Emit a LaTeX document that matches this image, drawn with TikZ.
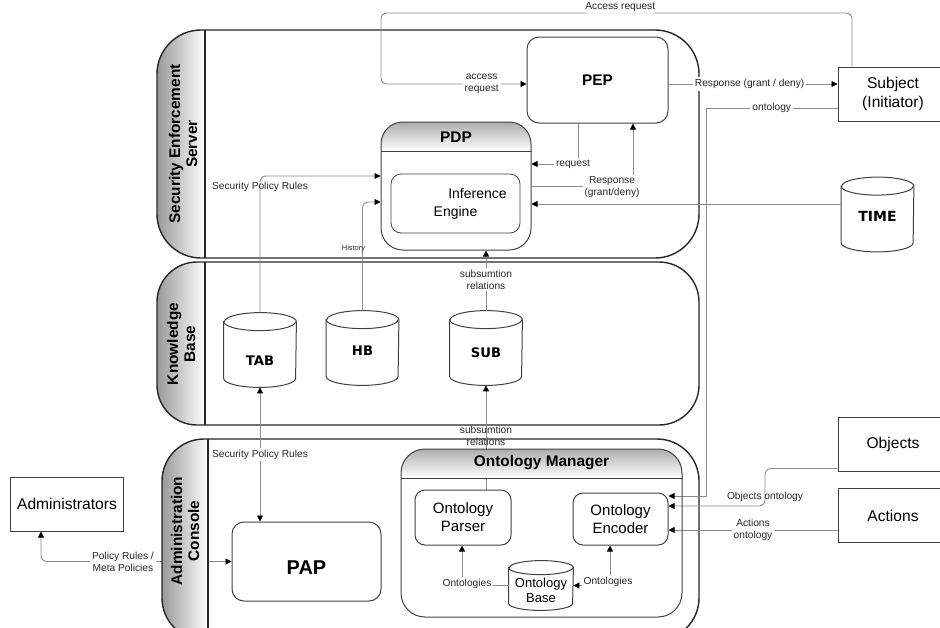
\documentclass[tikz,border=0pt]{standalone}
\usepackage{fontspec}
\setmainfont{Liberation Sans}
\newfontfamily\dbfont{DejaVu Sans}
\usetikzlibrary{arrows.meta}

% cylinder outline round a named node: name, half width, half height of the ellipse
\newcommand{\dbcyl}[3]{%
  \draw[box] ([yshift=-#3]#1.north west) -- ([yshift=#3]#1.south west)
    arc[start angle=180, end angle=360, x radius=#2, y radius=#3]
    -- ([yshift=-#3]#1.north east)
    arc[start angle=0, end angle=180, x radius=#2, y radius=#3] -- cycle;
  \draw[box] ([yshift=-#3]#1.north west) arc[start angle=180, end angle=360, x radius=#2, y radius=#3];
}

\tikzset{
  lane/.style={draw=black!85, line width=0.7pt},
  tabshade/.style={left color=black!40, right color=white},
  headshade/.style={top color=black!32, bottom color=white},
  box/.style={draw=black!75, line width=0.5pt},
  rbox/.style={box, rounded corners=5pt, align=center, font=\fontsize{7.5}{9}\selectfont},
  actor/.style={box, minimum width=55pt, minimum height=27pt, align=center, font=\fontsize{7.8}{9.5}\selectfont},
  db/.style={inner sep=0pt, minimum width=36pt, minimum height=37pt},
  dbtext/.style={inner sep=0pt, align=center, font=\dbfont\bfseries\fontsize{6.6}{8}\selectfont},
  head/.style={font=\bfseries\fontsize{7.7}{9}\selectfont},
  lanetitle/.style={rotate=90, align=center, font=\bfseries\fontsize{7.7}{8.5}\selectfont},
  con/.style={draw=black!45, line width=0.45pt},
  lbl/.style={inner sep=1pt, align=center, text=black!85, font=\fontsize{5.1}{6}\selectfont},
  lblw/.style={lbl, fill=white},
  lbltiny/.style={lbl, font=\fontsize{3.7}{4.5}\selectfont}
}

\begin{document}
\begin{tikzpicture}[x=0.5pt, y=-0.5pt, >={Triangle[length=3pt,width=3pt,color=black]}]
\useasboundingbox (0,0) rectangle (940,627);
\clip (0,0) rectangle (940,627);

% administrators and PAP (their link runs under the console tab)
\node[actor] (admin) at (67,504) {Administrators};
\node[box, rounded corners=6pt, minimum width=74.5pt, minimum height=39.5pt,
  label={[yshift=-3.2pt, font=\bfseries\fontsize{10}{12}\selectfont]center:PAP}] (pap) at (306.5,561.5) {};
\draw[con,<->,rounded corners=3pt] ([xshift=-13pt]admin.south) |- node[lblw, pos=0.715]{Policy Rules /\\Meta Policies} (pap.west);

% lanes
\begin{scope}
  \clip[rounded corners=22pt] (157,30) rectangle (699,258);
  \shade[tabshade] (157,30) rectangle (205,258);
\end{scope}
\draw[lane, rounded corners=22pt] (157,30) rectangle (699,258);
\draw[lane] (205,30) -- (205,258);
\node[lanetitle] (ses) at (183,144) {Security Enforcement\\Server};

\begin{scope}
  \clip[rounded corners=20pt] (157,262) rectangle (699,425);
  \shade[tabshade] (157,262) rectangle (205,425);
\end{scope}
\draw[lane, rounded corners=20pt] (157,262) rectangle (699,425);
\draw[lane] (205,262) -- (205,425);
\node[lanetitle] (kb) at (181,344) {Knowledge\\Base};

\begin{scope}
  \clip[rounded corners=21pt] (162,439) rectangle (699,640);
  \shade[tabshade] (162,439) rectangle (208,640);
\end{scope}
\draw[lane, rounded corners=21pt] (162,439) rectangle (699,640);
\draw[lane] (208,439) -- (208,640);
\node[lanetitle] (console) at (185,531) {Administration\\Console};

% enforcement server
\node[box, rounded corners=6pt, minimum width=70.5pt, minimum height=43pt, head] (pep) at (597.5,80) {PEP};
\begin{scope}
  \clip[rounded corners=11pt] (381,122) rectangle (531,250);
  \shade[headshade] (381,122) rectangle (531,151);
\end{scope}
\node[box, rounded corners=11pt, minimum width=75pt, minimum height=64pt] (pdp) at (456,186) {};
\draw[box] (pdp.west |- 0,151) -- (pdp.east |- 0,151);
\node[head] (pdptitle) at (456,137) {PDP};
\node[box, line width=0.4pt, rounded corners=5pt, minimum width=64.5pt, minimum height=29.5pt,
  align=center, font=\fontsize{7}{9}\selectfont] (engine) at (455.5,203.5) {\hspace*{22pt}Inference\\Engine};

% knowledge base
\node[db, label={[dbtext, yshift=-5.5pt]center:TAB}] (tab) at (260,350) {};
\node[db, label={[dbtext, yshift=-1.5pt]center:HB}] (hb) at (362.5,348) {};
\node[db, label={[dbtext, yshift=-2.5pt]center:SUB}] (sub) at (486,348) {};
\node[db, label={[dbtext, yshift=-0.8pt, font=\dbfont\bfseries\fontsize{7}{8}\selectfont]center:TIME}] (time) at (877.5,214.5) {};
\dbcyl{tab}{18pt}{4.5pt}
\dbcyl{hb}{18pt}{4.5pt}
\dbcyl{sub}{18pt}{4.5pt}
\dbcyl{time}{18pt}{4.5pt}

% outside actors
\node[actor] (subject) at (893,94) {Subject\\(Initiator)};
\node[actor] (objects) at (893,444) {Objects};
\node[actor] (actions) at (893,515.5) {Actions};

% ontology manager parts
\node[rbox, minimum width=48pt, minimum height=27.5pt] (parser) at (463,517.5) {Ontology\\Parser};
\node[rbox, minimum width=47.5pt, minimum height=26pt] (encoder) at (620.5,519) {Ontology\\Encoder};
\node[db, minimum width=32pt, minimum height=24.5pt,
  label={[dbtext, yshift=-2.5pt, font=\fontsize{6.5}{7.5}\selectfont]center:Ontology\\Base}] (base) at (541,585.5) {};
\dbcyl{base}{16pt}{3.5pt}

% connectors
\draw[con,->,rounded corners=3pt] (subject.north -| 852,0) |- node[lblw, pos=0.746, yshift=3pt]{Access request} (381,13)
  |- node[lblw, pos=0.846]{access\\request} (pep.west |- 0,84);
\draw[con,->] (pep.east |- 0,84) -- node[lblw, pos=0.48]{Response (grant / deny)} (subject.west |- 0,84);
\draw[con,->] (subject.west |- 0,108) -- node[lblw]{ontology} (706,108) |- (encoder.east |- 0,496);
\draw[con,->] (time.west |- 0,204) -- (pdp.east |- 0,204);
\draw[con,->] (pep.south -| 578,0) |- node[lblw, pos=0.5, xshift=-2.5pt]{request} (pdp.east |- 0,164);
\draw[con,->] (pdp.east |- 0,186) -| node[lblw, pos=0.5, xshift=-10.5pt, yshift=-0.7pt]{Response\\(grant/deny)} (pep.south -| 633,0);
\draw[con,->,rounded corners=3pt] (tab.north) |- node[lbl, pos=0.46]{Security Policy Rules} (pdp.west |- 0,176);
\draw[con,->,rounded corners=3pt] (hb.north) |- node[lbltiny, pos=0.286, xshift=-4.5pt]{History} (pdp.west |- 0,202);
\draw[con,->] (sub.north) -- node[lblw, pos=0.52]{subsumtion\\relations} (pdp.south -| sub.north);
\draw[con,->] (parser.north -| sub.south) -- node[lbl, pos=0.52]{subsumtion\\relations} (sub.south);
\draw[con,<->] (tab.south) -- node[lblw]{Security Policy Rules} (pap.north -| tab.south);
\draw[con,->] (base.west) -| node[lblw, pos=0.5, xshift=2.5pt, yshift=0.7pt]{Ontologies} (parser.south -| 462,0);
\draw[con,<->] (encoder.south -| 610,0) |- node[lblw, pos=0.5, xshift=-1pt, yshift=2pt]{Ontologies} (base.east);
\draw[con,->,rounded corners=3pt] ([yshift=1.5pt]objects.south west) -| node[lbl, pos=0.88]{Objects ontology} (765,506)
  -- (encoder.east |- 0,506);
\draw[con,->] (actions.west |- 0,530) -- node[lblw]{Actions\\ontology} (encoder.east |- 0,530);

% ontology manager frame, over the subsumption line
\begin{scope}
  \clip[rounded corners=12pt] (401,449) rectangle (682,617);
  \shade[headshade] (401,449) rectangle (682,478);
\end{scope}
\node[box, rounded corners=12pt, minimum width=140.5pt, minimum height=84pt] (om) at (541.5,533) {};
\draw[box] (om.west |- 0,478) -- (om.east |- 0,478);
\node[head] (omtitle) at (541.5,463) {Ontology Manager};
\end{tikzpicture}
\end{document}
